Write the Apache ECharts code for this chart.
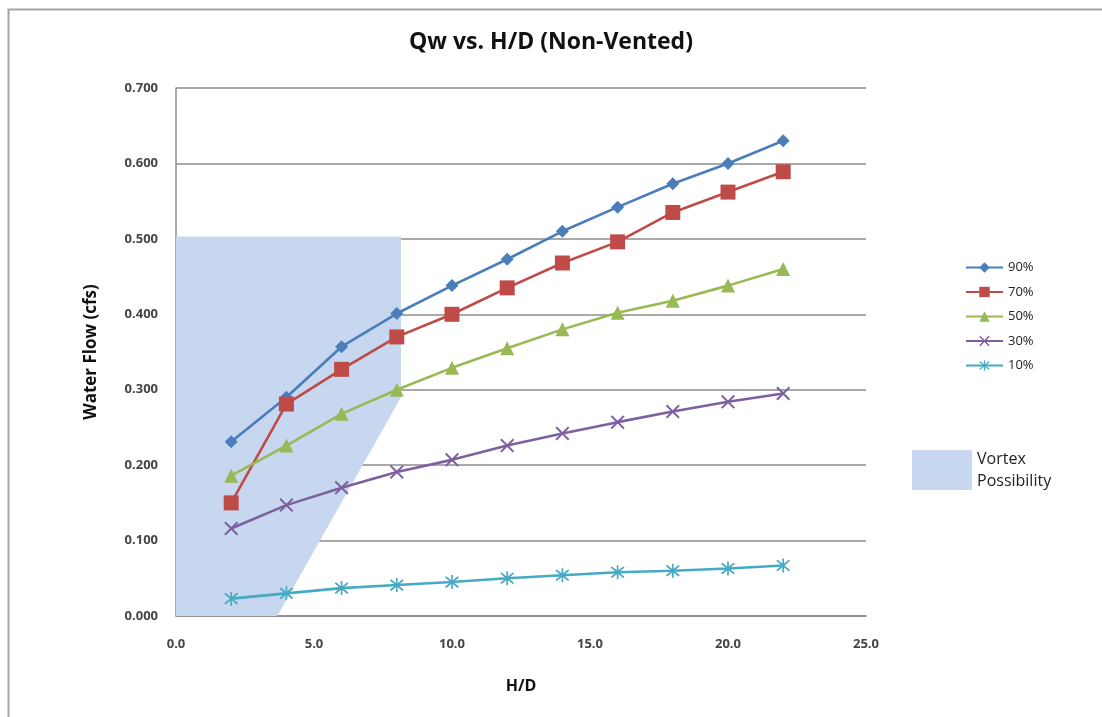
<!DOCTYPE html>
<html>
<head>
<meta charset="utf-8">
<script src="https://cdn.jsdelivr.net/npm/echarts@6/dist/echarts.min.js"></script>
<style>
html,body{margin:0;padding:0;background:#fff;}
#chart{width:1102px;height:717px;}
</style>
</head>
<body>
<div id="chart"></div>
<script>
// ---- data ----
const hd = [2, 4, 6, 8, 10, 12, 14, 16, 18, 20, 22];
const s90 = [0.231, 0.290, 0.357, 0.401, 0.438, 0.473, 0.510, 0.542, 0.573, 0.600, 0.630];
const s70 = [0.150, 0.281, 0.327, 0.370, 0.400, 0.435, 0.468, 0.496, 0.535, 0.562, 0.589];
const s50 = [0.186, 0.226, 0.268, 0.300, 0.329, 0.355, 0.380, 0.402, 0.418, 0.438, 0.460];
const s30 = [0.116, 0.147, 0.170, 0.191, 0.207, 0.226, 0.242, 0.257, 0.271, 0.284, 0.295];
const s10 = [0.023, 0.030, 0.037, 0.041, 0.045, 0.050, 0.054, 0.058, 0.060, 0.063, 0.067];
const seriesNames = ['90%', '70%', '50%', '30%', '10%'];
const vortexX = [0, 0, 8.15, 8.15, 3.67];
const vortexY = [0, 0.503, 0.503, 0.29, 0];
const vortexName = 'Vortex Possibility';

const FONT = '"Open Sans", Lato, sans-serif';
const colors = ['#4A7EBB', '#BE4B48', '#98B954', '#7D60A0', '#46AAC5'];
const xSym = 'path://M0,1 L1,0 L5,4 L9,0 L10,1 L6,5 L10,9 L9,10 L5,6 L1,10 L0,9 L4,5 Z';
const starSym = 'path://M0,1 L1,0 L5,4 L9,0 L10,1 L6,5 L10,9 L9,10 L5,6 L1,10 L0,9 L4,5 Z M4.4,-1 L5.6,-1 L5.6,11 L4.4,11 Z';
const symbols = ['diamond', 'rect', 'triangle', xSym, starSym];
const symbolSizes = [13, 15, 14, 14, 14];
const values = [s90, s70, s50, s30, s10];

const lineSeries = seriesNames.map((name, i) => ({
  name: name,
  type: 'line',
  data: hd.map((x, j) => [x, values[i][j]]),
  symbol: symbols[i],
  symbolSize: symbolSizes[i],
  showAllSymbol: true,
  smooth: false,
  z: 3,
  lineStyle: { color: colors[i], width: 2.6 },
  itemStyle: { color: colors[i], borderWidth: 0 }
}));

const vortexSeries = {
  name: vortexName,
  type: 'custom',
  z: 1,
  data: vortexX.map((x, i) => [x, vortexY[i]]),
  itemStyle: { color: '#C6D7EF' },
  renderItem: function (params, api) {
    if (params.dataIndex !== 0) return null;
    const pts = vortexX.map((x, i) => api.coord([x, vortexY[i]]));
    return {
      type: 'polygon',
      shape: { points: pts },
      style: { fill: '#C6D7EF', stroke: null }
    };
  }
};

const chart = echarts.init(document.getElementById('chart'));
chart.setOption({
  animation: false,
  backgroundColor: '#fff',
  graphic: [{
    type: 'rect', left: 6, top: 7, silent: true, z: -10,
    shape: { width: 1200, height: 800 },
    style: { fill: 'none', stroke: '#a6a6a6', lineWidth: 2 }
  }],
  title: {
    text: 'Qw vs. H/D (Non-Vented)',
    left: 'center', top: 26,
    textStyle: { fontFamily: FONT, fontSize: 23, fontWeight: 'bold', color: '#111' }
  },
  legend: [{
    data: seriesNames,
    orient: 'vertical',
    left: 960, top: 256,
    itemWidth: 37, itemHeight: 13, itemGap: 11.5,
    textStyle: { fontFamily: FONT, fontSize: 13, color: '#222' }
  }, {
    data: [{ name: vortexName, icon: 'rect' }],
    left: 907, top: 443,
    itemWidth: 60, itemHeight: 40,
    formatter: function () { return 'Vortex\nPossibility'; },
    textStyle: { fontFamily: FONT, fontSize: 16, color: '#222', lineHeight: 22 }
  }],
  grid: { left: 176, right: 236, top: 88, bottom: 101, containLabel: false },
  xAxis: {
    type: 'value', min: 0, max: 25, interval: 5,
    name: 'H/D', nameLocation: 'middle', nameGap: 62,
    nameTextStyle: { fontFamily: FONT, fontSize: 16, fontWeight: 'bold', color: '#111' },
    axisLine: { show: true, lineStyle: { color: '#8c8c8c', width: 1.5 } },
    axisTick: { show: false },
    splitLine: { show: false },
    axisLabel: {
      margin: 22, fontFamily: FONT, fontSize: 13, fontWeight: 'bold', color: '#444',
      formatter: v => v.toFixed(1)
    }
  },
  yAxis: {
    type: 'value', min: 0, max: 0.7, interval: 0.1,
    name: 'Water Flow (cfs)', nameLocation: 'middle', nameGap: 76, nameRotate: 90,
    nameTextStyle: { fontFamily: FONT, fontSize: 17, fontWeight: 'bold', color: '#111' },
    axisLine: { show: true, lineStyle: { color: '#8c8c8c', width: 1.5 } },
    axisTick: { show: false },
    splitLine: { show: true, lineStyle: { color: '#8c8c8c', width: 1.5 } },
    axisLabel: {
      margin: 18, fontFamily: FONT, fontSize: 13, fontWeight: 'bold', color: '#444',
      formatter: v => v.toFixed(3)
    }
  },
  series: [vortexSeries].concat(lineSeries)
});
</script>
</body>
</html>
